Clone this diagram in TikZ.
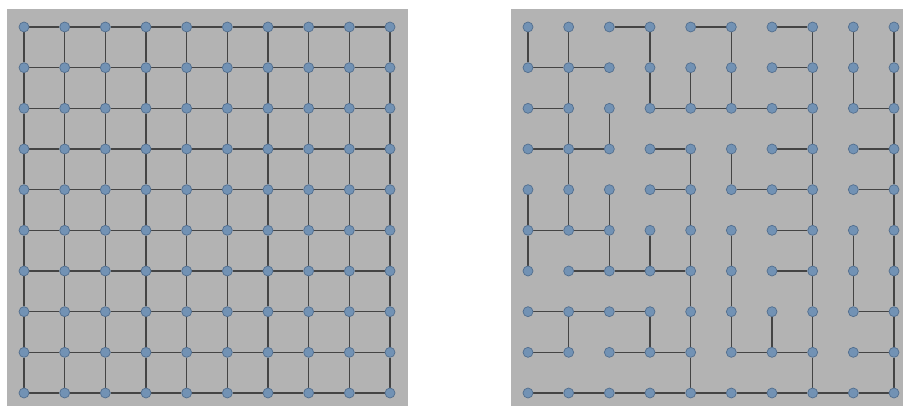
\documentclass[tikz,border=0pt]{standalone}
\pgfdeclarelayer{bglayer}
\pgfdeclarelayer{edgelayer}
\pgfsetlayers{bglayer,edgelayer,main}
\definecolor{panelgray}{RGB}{179,179,179}
\definecolor{linkgray}{RGB}{68,68,68}
\definecolor{dotfill}{RGB}{114,146,180}
\definecolor{dotline}{RGB}{82,110,142}
\begin{document}
\begin{tikzpicture}[x=1pt,y=-1pt,
  dot/.style={circle,draw=dotline,fill=dotfill,line width=0.7pt,minimum size=10pt,inner sep=0pt},
  link/.style={draw=linkgray,line width=1.6pt},
  panel/.style={fill=panelgray}]
\useasboundingbox (0,0) rectangle (903,406);
\begin{pgfonlayer}{bglayer}
  \fill[white] (0,0) rectangle (903,406);
  \fill[panel] (7,9) rectangle (408,406);
  \fill[panel] (511,9) rectangle (903,406);
\end{pgfonlayer}
% nodes
\foreach \c in {0,...,9}{
  \foreach \r in {0,...,9}{
    \node[dot] (L-\c-\r) at ({24+40.667*\c},{27+40.667*\r}) {};
    \node[dot] (R-\c-\r) at ({528+40.667*\c},{27+40.667*\r}) {};
  }
}
\begin{pgfonlayer}{edgelayer}
% left: full grid
\foreach \c in {0,...,8}{
  \foreach \r in {0,...,9}{
    \pgfmathtruncatemacro\nx{\c+1}
    \draw[link] (L-\c-\r) -- (L-\nx-\r);
    \draw[link] (L-\r-\c) -- (L-\r-\nx);
  }
}
% right: spanning tree, horizontal edges
\foreach \c/\r in {2/0,4/0,6/0,
  0/1,1/1,6/1,
  0/2,3/2,4/2,5/2,6/2,8/2,
  0/3,1/3,3/3,6/3,8/3,
  3/4,5/4,6/4,8/4,
  0/5,1/5,6/5,
  1/6,2/6,3/6,6/6,
  0/7,1/7,2/7,8/7,
  0/8,2/8,3/8,5/8,6/8,8/8,
  0/9,1/9,2/9,3/9,4/9,5/9,6/9,7/9,8/9}{
  \pgfmathtruncatemacro\nx{\c+1}
  \draw[link] (R-\c-\r) -- (R-\nx-\r);
}
% right: vertical edges
\foreach \c/\r in {0/0,1/0,3/0,5/0,7/0,8/0,9/0,
  1/1,3/1,4/1,5/1,7/1,8/1,9/1,
  1/2,2/2,7/2,9/2,
  1/3,4/3,5/3,7/3,9/3,
  0/4,1/4,2/4,4/4,7/4,9/4,
  0/5,2/5,3/5,4/5,5/5,7/5,8/5,9/5,
  4/6,5/6,7/6,8/6,9/6,
  1/7,3/7,4/7,5/7,6/7,7/7,9/7,
  4/8,7/8,9/8}{
  \pgfmathtruncatemacro\ny{\r+1}
  \draw[link] (R-\c-\r) -- (R-\c-\ny);
}
\end{pgfonlayer}
\end{tikzpicture}
\end{document}
